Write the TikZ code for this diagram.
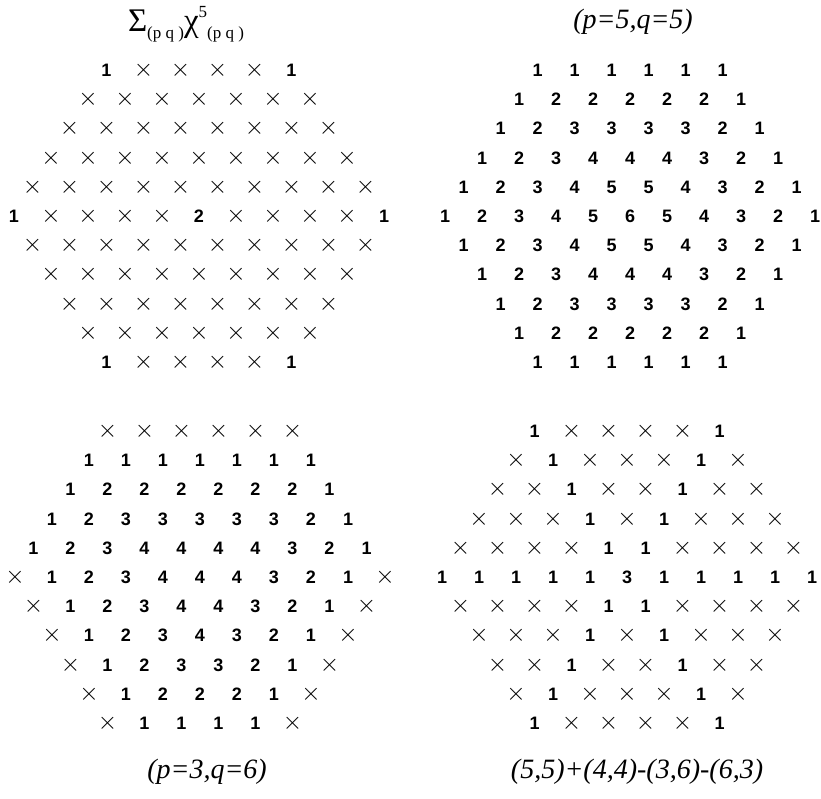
\documentclass[tikz,border=0pt]{standalone}
\usepackage{fontspec}
\setmainfont{Liberation Serif}
\setsansfont{Liberation Sans}
\usepackage{tikz}
\usetikzlibrary{positioning}
\newcommand{\tms}{{\fontsize{27}{27}\selectfont$\times$}}
\newcommand{\hexarray}[4]{% name, centre x, centre y, rows
  \foreach \row [count=\r] in {#4} {
    \pgfmathtruncatemacro{\n}{11-abs(\r-6)}
    \foreach \v [count=\c] in \row {
      \node[cell] (#1-\r-\c) at ({#2+(\c-(\n+1)/2)*37}, {#3+(\r-6)*29.2}) {\v};
    }
  }
}
\tikzset{
  cell/.style={inner sep=0pt, text height=13pt, text depth=0pt,
    font=\sffamily\bfseries\fontsize{18}{18}\selectfont},
  caption/.style={inner sep=0pt, font=\itshape\fontsize{28}{28}\selectfont},
}

\begin{document}
\begin{tikzpicture}[x=1pt, y=-1pt]
\useasboundingbox (0,0) rectangle (821,798);

\node[inner sep=0pt, font=\fontsize{33}{33}\selectfont] (title) at (186,24)
  {Σ\raisebox{-7pt}{\fontsize{17}{17}\selectfont(p q )}χ\raisebox{14pt}{\fontsize{17}{17}\selectfont 5}\raisebox{-7pt}{\fontsize{17}{17}\selectfont(p q )}};
\node[caption] (capB) at (633,22) {(p=5,q=5)};
\node[caption] (capC) at (207,772) {(p=3,q=6)};
\node[caption] (capD) at (637,772) {(5,5)+(4,4)-(3,6)-(6,3)};

% top left
\hexarray{A}{199}{216}{
  {1,\tms,\tms,\tms,\tms,1},
  {\tms,\tms,\tms,\tms,\tms,\tms,\tms},
  {\tms,\tms,\tms,\tms,\tms,\tms,\tms,\tms},
  {\tms,\tms,\tms,\tms,\tms,\tms,\tms,\tms,\tms},
  {\tms,\tms,\tms,\tms,\tms,\tms,\tms,\tms,\tms,\tms},
  {1,\tms,\tms,\tms,\tms,2,\tms,\tms,\tms,\tms,1},
  {\tms,\tms,\tms,\tms,\tms,\tms,\tms,\tms,\tms,\tms},
  {\tms,\tms,\tms,\tms,\tms,\tms,\tms,\tms,\tms},
  {\tms,\tms,\tms,\tms,\tms,\tms,\tms,\tms},
  {\tms,\tms,\tms,\tms,\tms,\tms,\tms},
  {1,\tms,\tms,\tms,\tms,1}}

% top right
\hexarray{B}{630}{216}{
  {1,1,1,1,1,1},
  {1,2,2,2,2,2,1},
  {1,2,3,3,3,3,2,1},
  {1,2,3,4,4,4,3,2,1},
  {1,2,3,4,5,5,4,3,2,1},
  {1,2,3,4,5,6,5,4,3,2,1},
  {1,2,3,4,5,5,4,3,2,1},
  {1,2,3,4,4,4,3,2,1},
  {1,2,3,3,3,3,2,1},
  {1,2,2,2,2,2,1},
  {1,1,1,1,1,1}}

% bottom left
\hexarray{C}{200}{577}{
  {\tms,\tms,\tms,\tms,\tms,\tms},
  {1,1,1,1,1,1,1},
  {1,2,2,2,2,2,2,1},
  {1,2,3,3,3,3,3,2,1},
  {1,2,3,4,4,4,4,3,2,1},
  {\tms,1,2,3,4,4,4,3,2,1,\tms},
  {\tms,1,2,3,4,4,3,2,1,\tms},
  {\tms,1,2,3,4,3,2,1,\tms},
  {\tms,1,2,3,3,2,1,\tms},
  {\tms,1,2,2,2,1,\tms},
  {\tms,1,1,1,1,\tms}}

% bottom right
\hexarray{D}{627}{577}{
  {1,\tms,\tms,\tms,\tms,1},
  {\tms,1,\tms,\tms,\tms,1,\tms},
  {\tms,\tms,1,\tms,\tms,1,\tms,\tms},
  {\tms,\tms,\tms,1,\tms,1,\tms,\tms,\tms},
  {\tms,\tms,\tms,\tms,1,1,\tms,\tms,\tms,\tms},
  {1,1,1,1,1,3,1,1,1,1,1},
  {\tms,\tms,\tms,\tms,1,1,\tms,\tms,\tms,\tms},
  {\tms,\tms,\tms,1,\tms,1,\tms,\tms,\tms},
  {\tms,\tms,1,\tms,\tms,1,\tms,\tms},
  {\tms,1,\tms,\tms,\tms,1,\tms},
  {1,\tms,\tms,\tms,\tms,1}}
\end{tikzpicture}
\end{document}
